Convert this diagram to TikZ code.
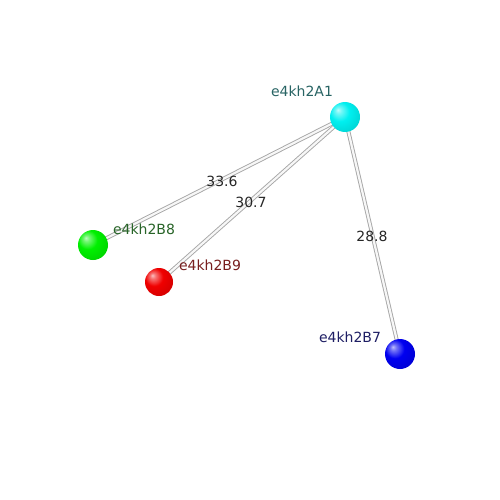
\documentclass[tikz,border=0pt]{standalone}
\usepackage{fontspec}
\setmainfont{DejaVu Sans}
\usetikzlibrary{backgrounds}
\definecolor{cCy}{RGB}{0,240,240}
\definecolor{cGr}{RGB}{0,240,0}
\definecolor{cRe}{RGB}{240,0,0}
\definecolor{cBl}{RGB}{0,0,240}
\newcommand{\mkball}[1]{%
\pgfdeclareradialshading{sh#1}{\pgfpoint{-12bp}{12bp}}{%
color(0bp)=(#1!25!white); color(5bp)=(#1!55!white); color(16bp)=(#1);
color(34bp)=(#1!88!black); color(45bp)=(#1!55!black); color(50bp)=(#1!30!black); color(60bp)=(#1!30!black)}}
\mkball{cCy}\mkball{cGr}\mkball{cRe}\mkball{cBl}
\begin{document}
\begin{tikzpicture}[x=1pt,y=-1pt,
  atom/.style={circle,minimum size=30pt,inner sep=0pt,shading=sh#1},
  lbl/.style={font=\fontsize{14}{16}\selectfont,inner sep=0pt},
  tubeo/.style={line width=4pt,draw=gray!70},
  tubei/.style={line width=2.2pt,draw=gray!6}]
\useasboundingbox (0,0) rectangle (500,500);
\node[atom=cCy] (a1) at (345,117) {};
\node[atom=cGr] (b8) at (93,245) {};
\node[atom=cRe,minimum size=28pt] (b9) at (159,282) {};
\node[atom=cBl] (b7) at (400,354) {};
\begin{scope}[on background layer]
\fill[white] (0,0) rectangle (500,500);
\foreach \t in {b8,b9,b7}{
  \draw[tubeo] (a1.center) -- (\t.center);
  \draw[tubei] (a1.center) -- (\t.center);
}
\end{scope}
\node[lbl,text={rgb,255:red,40;green,100;blue,100}] (la1) at (302,91) {e4kh2A1};
\node[lbl,text={rgb,255:red,40;green,100;blue,40}] (lb8) at (144,229) {e4kh2B8};
\node[lbl,text={rgb,255:red,120;green,30;blue,30}] (lb9) at (210,265) {e4kh2B9};
\node[lbl,text={rgb,255:red,30;green,30;blue,100}] (lb7) at (350,337) {e4kh2B7};
\node[lbl,text=black!85] (d1) at (222,181) {33.6};
\node[lbl,text=black!85] (d2) at (251,202) {30.7};
\node[lbl,text=black!85] (d3) at (372,236) {28.8};
\end{tikzpicture}
\end{document}
